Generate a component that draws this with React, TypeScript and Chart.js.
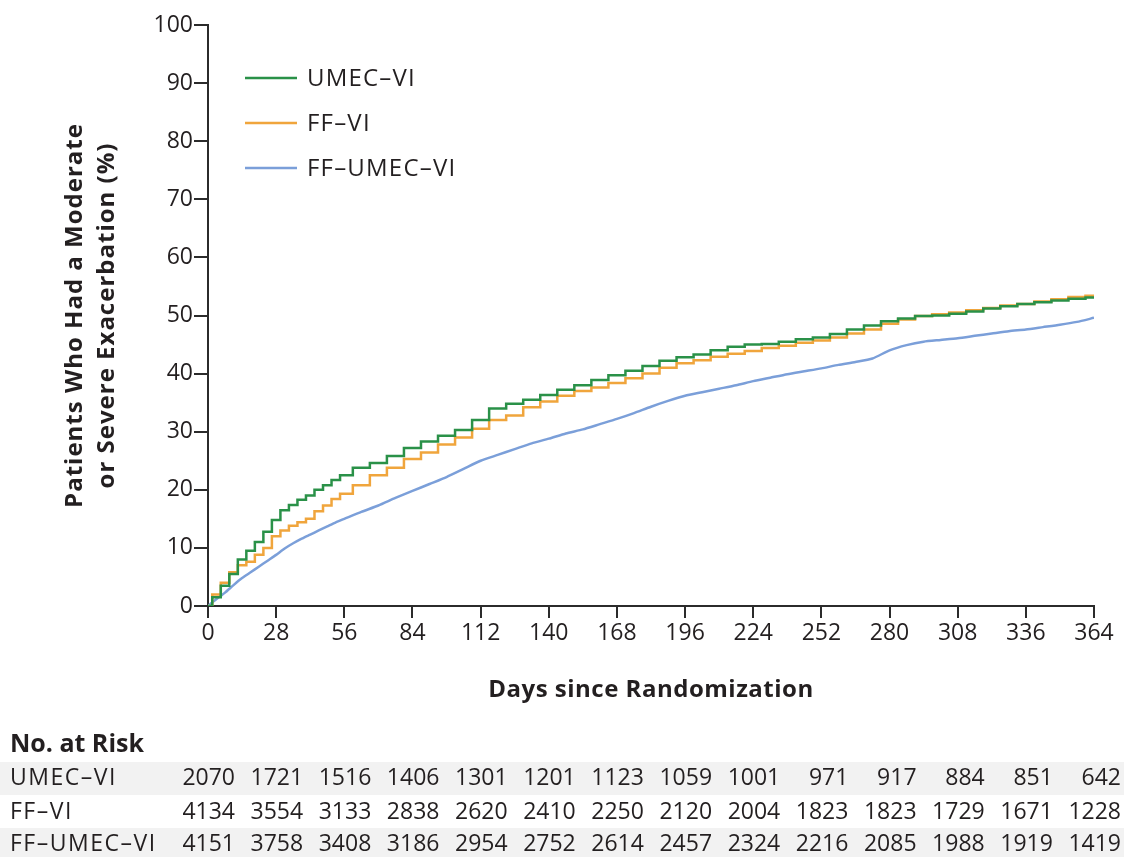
import React, { useEffect, useRef } from "react";
import { Chart, registerables } from "chart.js";

Chart.register(...registerables);

const FONT = "'Open Sans', 'Noto Sans', sans-serif";
const TEXT = "#231f20";
const AXIS = "#2b2b2b";

const SERIES_NAMES = ["UMEC–VI", "FF–VI", "FF–UMEC–VI"];
const COLORS = ["#2a9148", "#f0a53c", "#7b9fd9"];

const days = [
  0, 3.5, 7, 10.5, 14, 17.5, 21, 24.5, 28, 31.5, 35, 38.5, 42, 45.5, 49, 52.5,
  56, 63, 70, 77, 84, 91, 98, 105, 112, 119, 126, 133, 140, 147, 154, 161, 168,
  175, 182, 189, 196, 203, 210, 217, 224, 231, 238, 245, 252, 259, 266, 273,
  280, 287, 294, 301, 308, 315, 322, 329, 336, 343, 350, 357, 364,
];

const umecVi = [
  0, 1.5, 3.5, 5.5, 8, 9.5, 11, 12.8, 14.8, 16.5, 17.4, 18.3, 19, 20, 20.8, 21.7,
  22.5, 23.8, 24.6, 25.8, 27.2, 28.3, 29.3, 30.3, 32, 34, 34.8, 35.5, 36.3, 37.2,
  38, 38.9, 39.7, 40.5, 41.3, 42.2, 42.8, 43.3, 44, 44.6, 45, 45.1, 45.5, 45.9,
  46.2, 46.8, 47.6, 48.3, 49, 49.5, 49.9, 50, 50.3, 50.7, 51.2, 51.6, 52, 52.3,
  52.6, 52.9, 53.1,
];

const ffVi = [
  0, 2, 4, 5.8, 7, 7.6, 8.8, 10, 12, 13, 13.8, 14.4, 15, 16.3, 17.3, 18.4, 19.3,
  20.8, 22.5, 23.8, 25.3, 26.4, 27.8, 29, 30.5, 32, 32.8, 34.2, 35.2, 36.2, 37,
  37.6, 38.4, 39.2, 40, 41, 41.8, 42.3, 42.9, 43.4, 43.9, 44.4, 44.8, 45.3, 45.7,
  46.2, 46.9, 47.6, 48.6, 49.3, 49.9, 50.2, 50.5, 50.9, 51.3, 51.7, 52, 52.4,
  52.8, 53.2, 53.4,
];

const ffUmecVi = [
  0, 1.2, 2.3, 3.6, 4.8, 5.8, 6.8, 7.8, 8.8, 9.9, 10.8, 11.6, 12.3, 13, 13.7,
  14.4, 15, 16.2, 17.3, 18.6, 19.8, 21, 22.2, 23.6, 25, 26, 27, 28, 28.8, 29.7,
  30.4, 31.3, 32.2, 33.2, 34.3, 35.3, 36.2, 36.8, 37.4, 38, 38.7, 39.3, 39.9,
  40.4, 40.9, 41.5, 42, 42.6, 44, 44.9, 45.5, 45.8, 46.1, 46.5, 46.9, 47.3, 47.6,
  48, 48.4, 48.9, 49.6,
];

const riskDays = [0, 28, 56, 84, 112, 140, 168, 196, 224, 252, 280, 308, 336, 364];
const riskUmecVi = [2070, 1721, 1516, 1406, 1301, 1201, 1123, 1059, 1001, 971, 917, 884, 851, 642];
const riskFfVi = [4134, 3554, 3133, 2838, 2620, 2410, 2250, 2120, 2004, 1823, 1823, 1729, 1671, 1228];
const riskFfUmecVi = [4151, 3758, 3408, 3186, 2954, 2752, 2614, 2457, 2324, 2216, 2085, 1988, 1919, 1419];

const Y_TITLE = ["Patients Who Had a Moderate", "or Severe Exacerbation (%)"];
const X_TITLE = "Days since Randomization";
const RISK_TITLE = "No. at Risk";

function setSpacing(ctx: any, v: string) {
  if ("letterSpacing" in ctx) ctx.letterSpacing = v;
}

const overlayPlugin = {
  id: "overlay",
  afterDraw(chart: any) {
    const ctx = chart.ctx as CanvasRenderingContext2D;
    const area = chart.chartArea;
    const xs = chart.scales.x;
    const cy = (area.top + area.bottom) / 2;

    // Y title
    ctx.save();
    ctx.fillStyle = TEXT;
    ctx.font = `bold 24px ${FONT}`;
    setSpacing(ctx, "1px");
    ctx.textAlign = "center";
    ctx.textBaseline = "alphabetic";
    ctx.translate(0, cy);
    ctx.rotate(-Math.PI / 2);
    ctx.fillText(Y_TITLE[0], 0, 82);
    ctx.fillText(Y_TITLE[1], 0, 114);
    ctx.restore();

    // X title
    ctx.save();
    ctx.fillStyle = TEXT;
    ctx.font = `bold 24px ${FONT}`;
    setSpacing(ctx, "0.5px");
    ctx.textAlign = "center";
    ctx.textBaseline = "middle";
    ctx.fillText(X_TITLE, (area.left + area.right) / 2, 690);
    ctx.restore();

    // Legend
    ctx.save();
    const legendY = [78, 123, 168];
    chart.data.datasets.forEach((ds: any, i: number) => {
      ctx.strokeStyle = ds.borderColor;
      ctx.lineWidth = 2.5;
      ctx.beginPath();
      ctx.moveTo(245, legendY[i]);
      ctx.lineTo(297, legendY[i]);
      ctx.stroke();
      ctx.fillStyle = TEXT;
      ctx.font = `24px ${FONT}`;
      setSpacing(ctx, "1.2px");
      ctx.textAlign = "left";
      ctx.textBaseline = "middle";
      ctx.fillText(ds.label, 307, legendY[i] + 1);
    });
    ctx.restore();

    // Risk table
    ctx.save();
    ctx.fillStyle = "#f2f2f2";
    ctx.fillRect(0, 762, chart.width, 33);
    ctx.fillRect(0, 828, chart.width, 29);
    ctx.fillStyle = TEXT;
    ctx.font = `bold 25px ${FONT}`;
    ctx.textAlign = "left";
    ctx.textBaseline = "middle";
    ctx.fillText(RISK_TITLE, 10, 745);
    const rows = [riskUmecVi, riskFfVi, riskFfUmecVi];
    const rowY = [778, 812, 844];
    rows.forEach((vals, r) => {
      ctx.font = `23px ${FONT}`;
      setSpacing(ctx, "1.5px");
      ctx.textAlign = "left";
      ctx.fillText(SERIES_NAMES[r], 10, rowY[r]);
      setSpacing(ctx, "0px");
      ctx.textAlign = "right";
      vals.forEach((v, j) => {
        const x = xs.getPixelForValue(riskDays[j]) + 27;
        ctx.fillText(String(v), x, rowY[r]);
      });
    });
    ctx.restore();
  },
};

export default function App() {
  const ref = useRef<HTMLCanvasElement | null>(null);

  useEffect(() => {
    document.body.style.margin = "0";
    const canvas = ref.current;
    if (!canvas) return;
    const mk = (vals: number[]) => vals.map((v, i) => ({ x: days[i], y: v }));
    const chart = new Chart(canvas, {
      type: "line",
      data: {
        datasets: [
          {
            label: SERIES_NAMES[0],
            data: mk(umecVi),
            borderColor: COLORS[0],
            borderWidth: 2.5,
            pointRadius: 0,
            stepped: "middle",
            fill: false,
          },
          {
            label: SERIES_NAMES[1],
            data: mk(ffVi),
            borderColor: COLORS[1],
            borderWidth: 2.5,
            pointRadius: 0,
            stepped: "middle",
            fill: false,
          },
          {
            label: SERIES_NAMES[2],
            data: mk(ffUmecVi),
            borderColor: COLORS[2],
            borderWidth: 2.5,
            pointRadius: 0,
            tension: 0.2,
            fill: false,
          },
        ],
      },
      options: {
        responsive: false,
        animation: false,
        devicePixelRatio: 1,
        layout: { padding: { left: 0, top: 25, right: 30, bottom: 0 } },
        plugins: {
          legend: { display: false },
          tooltip: { enabled: false },
        },
        scales: {
          x: {
            type: "linear",
            min: 0,
            max: 364,
            afterFit: (s: any) => {
              s.height = 251;
            },
            afterBuildTicks: (s: any) => {
              s.ticks = riskDays.map((d) => ({ value: d }));
            },
            ticks: {
              autoSkip: false,
              maxRotation: 0,
              padding: 2,
              color: TEXT,
              font: { family: FONT, size: 23 },
            },
            grid: {
              drawOnChartArea: false,
              drawTicks: true,
              tickLength: 12,
              color: AXIS,
              lineWidth: 2,
            },
            border: { color: AXIS, width: 2 },
          },
          y: {
            min: 0,
            max: 100,
            afterFit: (s: any) => {
              s.width = 208;
            },
            ticks: {
              stepSize: 10,
              padding: 1,
              color: TEXT,
              font: { family: FONT, size: 23 },
            },
            grid: {
              drawOnChartArea: false,
              drawTicks: true,
              tickLength: 14,
              color: AXIS,
              lineWidth: 2,
            },
            border: { color: AXIS, width: 2 },
          },
        },
      },
      plugins: [overlayPlugin],
    });
    return () => chart.destroy();
  }, []);

  return (
    <canvas
      ref={ref}
      width={1124}
      height={857}
      style={{ display: "block", width: 1124, height: 857 }}
    />
  );
}
